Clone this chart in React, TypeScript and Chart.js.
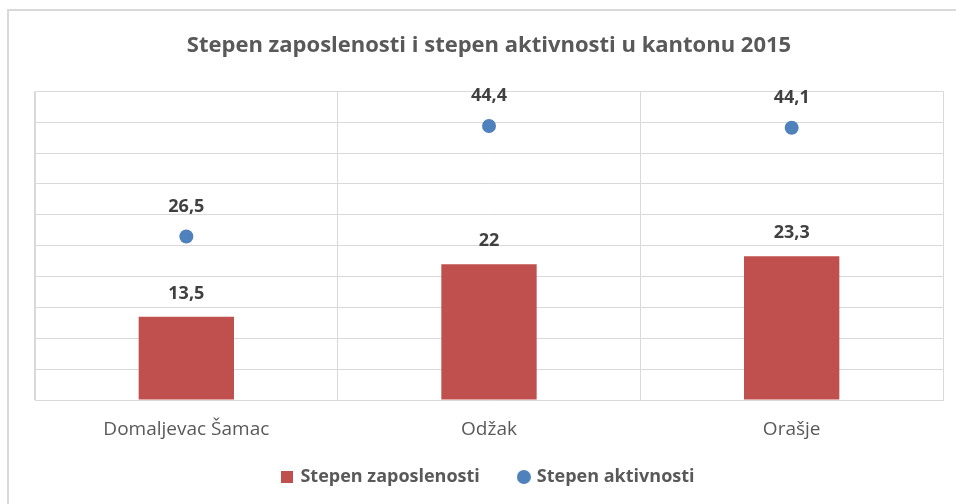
import React, { useEffect, useRef } from "react";
import { Chart, registerables } from "chart.js";

Chart.register(...registerables);

const titleText = "Stepen zaposlenosti i stepen aktivnosti u kantonu 2015";
const categories = ["Domaljevac Šamac", "Odžak", "Orašje"];
const zaposlenostLabel = "Stepen zaposlenosti";
const zaposlenost = [13.5, 22, 23.3];
const aktivnostLabel = "Stepen aktivnosti";
const aktivnost = [26.5, 44.4, 44.1];
const yMin = 0;
const yMax = 50;
const yStep = 5;

const FONT = "'Open Sans', sans-serif";
const GRID = "#d9d9d9";
const BAR_COLOR = "#C0504D";
const POINT_COLOR = "#4F81BD";

function makeMarker(kind: "square" | "circle", size: number, color: string) {
  const c = document.createElement("canvas");
  c.width = size;
  c.height = size;
  const ctx = c.getContext("2d")!;
  ctx.fillStyle = color;
  if (kind === "square") {
    ctx.fillRect(0, 0, size, size);
  } else {
    ctx.beginPath();
    ctx.arc(size / 2, size / 2, size / 2, 0, Math.PI * 2);
    ctx.fill();
  }
  return c;
}

const framePlugin = {
  id: "frame",
  beforeDraw(chart: any) {
    const ctx = chart.ctx;
    ctx.save();
    ctx.fillStyle = "#ffffff";
    ctx.fillRect(0, 0, chart.width, chart.height);
    ctx.strokeStyle = "#d9d9d9";
    ctx.lineWidth = 2;
    ctx.beginPath();
    ctx.moveTo(8, chart.height);
    ctx.lineTo(8, 10);
    ctx.lineTo(chart.width, 10);
    ctx.stroke();
    ctx.restore();
  },
};

const legendShiftPlugin = {
  id: "legendShift",
  afterLayout(chart: any) {
    const l = chart.legend;
    if (l) {
      l.top -= 12;
      l.bottom -= 12;
    }
  },
};

const valueLabelPlugin = {
  id: "valueLabels",
  afterDatasetsDraw(chart: any) {
    const ctx = chart.ctx;
    ctx.save();
    ctx.font = `bold 18px ${FONT}`;
    ctx.fillStyle = "#404040";
    ctx.textAlign = "center";
    ctx.textBaseline = "middle";
    chart.data.datasets.forEach((ds: any, i: number) => {
      const meta = chart.getDatasetMeta(i);
      const offset = meta.type === "bar" ? 23 : 30;
      meta.data.forEach((el: any, j: number) => {
        const txt = String(ds.data[j]).replace(".", ",");
        ctx.fillText(txt, el.x, el.y - offset);
      });
    });
    ctx.restore();
  },
};

export default function App() {
  const ref = useRef<HTMLCanvasElement | null>(null);
  useEffect(() => {
    if (!ref.current) return;
    const squareImg = makeMarker("square", 12, BAR_COLOR);
    const circleImg = makeMarker("circle", 14, POINT_COLOR);
    const chart = new Chart(ref.current, {
      type: "bar",
      data: {
        labels: categories,
        datasets: [
          {
            type: "bar",
            label: zaposlenostLabel,
            data: zaposlenost,
            backgroundColor: BAR_COLOR,
            borderWidth: 0,
            categoryPercentage: 1,
            barPercentage: 0.315,
          } as any,
          {
            type: "line",
            label: aktivnostLabel,
            data: aktivnost,
            showLine: false,
            backgroundColor: POINT_COLOR,
            borderColor: POINT_COLOR,
            pointRadius: 7,
            pointBorderWidth: 0,
            pointStyle: "circle",
          } as any,
        ],
      },
      options: {
        responsive: false,
        animation: false,
        devicePixelRatio: 1,
        layout: { padding: { left: 35, right: 13, top: 0, bottom: -4 } },
        plugins: {
          title: {
            display: true,
            text: titleText,
            color: "#595959",
            font: { family: FONT, size: 22, weight: "bold" },
            padding: { top: 33, bottom: 32 },
          },
          legend: {
            display: true,
            position: "bottom",
            labels: {
              usePointStyle: true,
              boxWidth: 8,
              boxHeight: 12,
              padding: 40,
              color: "#595959",
              font: { family: FONT, size: 18, weight: "bold" },
              generateLabels(chart: any) {
                const items = (Chart.defaults.plugins.legend.labels as any).generateLabels(chart);
                items.forEach((it: any) => {
                  it.pointStyle = it.datasetIndex === 0 ? squareImg : circleImg;
                });
                return items;
              },
            },
          },
          tooltip: { enabled: false },
        },
        scales: {
          x: {
            grid: { color: GRID, drawTicks: false, offset: true },
            border: { color: GRID },
            ticks: {
              padding: 18,
              color: "#595959",
              font: { family: FONT, size: 19 },
            },
            afterFit(scale: any) {
              scale.height = 40;
            },
          },
          y: {
            min: yMin,
            max: yMax,
            ticks: { stepSize: yStep, display: false },
            grid: { color: GRID, drawTicks: false },
            border: { color: GRID },
          },
        },
      },
      plugins: [framePlugin, legendShiftPlugin, valueLabelPlugin],
    });
    return () => chart.destroy();
  }, []);
  return (
    <div style={{ position: "fixed", left: 0, top: 0, width: 956, height: 504 }}>
      <canvas ref={ref} width={956} height={504} style={{ width: 956, height: 504 }} />
    </div>
  );
}
